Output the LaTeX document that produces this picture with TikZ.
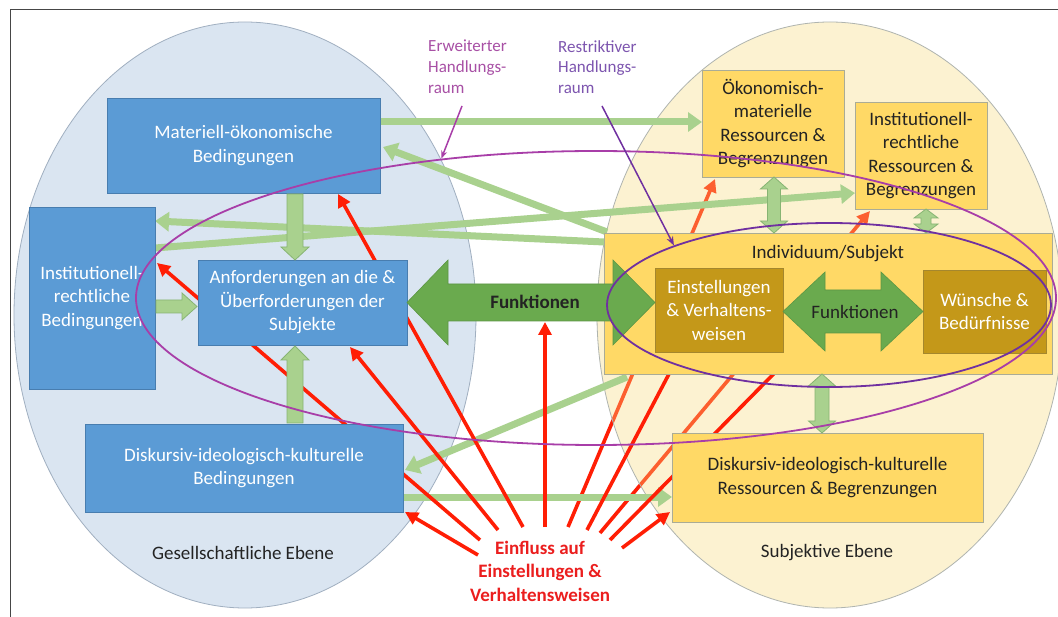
\documentclass[tikz,border=0pt]{standalone}
\usepackage{fontspec}
\setmainfont{Carlito}
\usetikzlibrary{arrows.meta,shapes.geometric}

\definecolor{framegray}{RGB}{70,70,70}
\definecolor{socialbg}{RGB}{218,229,241}
\definecolor{socialedge}{RGB}{160,175,192}
\definecolor{subjbg}{RGB}{249,218,126}
\definecolor{subjedge}{RGB}{175,180,175}
\definecolor{boxblue}{RGB}{91,155,213}
\definecolor{boxblueedge}{RGB}{72,125,175}
\definecolor{boxyellow}{RGB}{255,217,102}
\definecolor{boxyellowedge}{RGB}{170,172,150}
\definecolor{boxgold}{RGB}{196,152,25}
\definecolor{boxgoldedge}{RGB}{165,135,45}
\definecolor{arrowgreen}{RGB}{106,170,78}
\definecolor{arrowgreenedge}{RGB}{92,150,68}
\definecolor{palegreen}{RGB}{169,209,142}
\definecolor{palegreenedge}{RGB}{135,180,115}
\definecolor{influence}{RGB}{255,30,5}
\definecolor{influencetext}{RGB}{235,30,30}
\definecolor{widerange}{RGB}{168,62,168}
\definecolor{widelabel}{RGB}{168,80,165}
\definecolor{narrowrange}{RGB}{112,48,160}
\definecolor{narrowlabel}{RGB}{125,85,175}
\definecolor{darktext}{RGB}{35,35,35}

\tikzset{
  boxfont/.style={font=\fontsize{19}{23.5}\selectfont},
  bluebox/.style={boxfont, draw=boxblueedge, fill=boxblue, text=white, align=center, inner sep=0pt, line width=0.8pt},
  yellowbox/.style={boxfont, draw=boxyellowedge, fill=boxyellow, text=darktext, align=center, inner sep=0pt, line width=0.8pt},
  goldbox/.style={boxfont, draw=boxgoldedge, fill=boxgold, text=white, align=center, inner sep=0pt, line width=0.8pt},
  flow/.style={draw=palegreen, line width=7pt, -{Triangle[width=19pt,length=14pt]}},
  influencearrow/.style={draw=influence, line width=3.6pt, -{Triangle[width=13pt,length=13pt]}},
  blockarrow/.style={fill=palegreen, draw=palegreenedge, line width=0.8pt},
  bigarrow/.style={fill=arrowgreen, draw=arrowgreenedge, line width=0.6pt},
  plain/.style={boxfont, text=darktext, inner sep=0pt},
}

\begin{document}
\begin{tikzpicture}[x=1pt,y=-1pt]
\useasboundingbox (0,0) rectangle (1058,617);
\fill[white] (0,0) rectangle (1058,617);

% frame
\draw[framegray, line width=1pt] (10.5,617) -- (10.5,9.5) -- (1058,9.5);

% influence lines that run behind the subjective level
\coordinate (e6) at (568,527);
\coordinate (e8) at (600,533);
\coordinate (oek-s) at (715,179);
\coordinate (instr-s) at (870,211);
\draw[influencearrow] (e6) -- (oek-s);
\draw[influencearrow] (e8) -- (instr-s);

% the two levels
\node[ellipse, draw=socialedge, fill=socialbg, line width=0.8pt, inner sep=0pt,
      minimum width=462pt, minimum height=586pt] (social) at (245,315) {};
\node[ellipse, draw=subjedge, fill=subjbg, fill opacity=0.35, line width=0.8pt, inner sep=0pt,
      minimum width=466pt, minimum height=586pt] (subjective) at (830,315) {};

% connection points
\coordinate (mat-e1) at (380,122);
\coordinate (oek-w) at (702,122);
\coordinate (indiv-nw) at (607,232);
\coordinate (mat-e2) at (383,147);
\coordinate (instb-e1) at (155,248);
\coordinate (instr-w) at (855,193);
\coordinate (indiv-w) at (604,242);
\coordinate (instb-e2) at (155,221);
\coordinate (indiv-sw) at (627,377);
\coordinate (disk-e1) at (405,470);
\coordinate (disk-e2) at (403,497);
\coordinate (diskr-w) at (672,497);

% pale green flows
\draw[flow] (mat-e1) -- (oek-w);
\draw[flow] (indiv-nw) -- (mat-e2);
\draw[flow] (instb-e1) -- (instr-w);
\draw[flow] (indiv-w) -- (instb-e2);
\draw[flow] (indiv-sw) -- (disk-e1);
\draw[flow] (disk-e2) -- (diskr-w);

% influence lines
\coordinate (e1) at (478,555);
\coordinate (e2) at (480,540);
\coordinate (e3) at (498,530);
\coordinate (e4) at (523,527);
\coordinate (e5) at (545,527);
\coordinate (e7) at (587,530);
\coordinate (e9) at (610,540);
\coordinate (e10) at (622,548);
\coordinate (disk-se) at (405,512);
\coordinate (instb-e3) at (157,263);
\coordinate (anf-s) at (350,347);
\coordinate (mat-s) at (338,194);
\coordinate (funk-s) at (545,322);
\coordinate (einst-s) at (680,353);
\coordinate (funkR-s) at (807,340);
\coordinate (diskr-sw) at (670,512);
\draw[influencearrow] (e1) -- (disk-se);
\draw[influencearrow] (e2) -- (instb-e3);
\draw[influencearrow] (e3) -- (anf-s);
\draw[influencearrow] (e4) -- (mat-s);
\draw[influencearrow] (e5) -- (funk-s);
\draw[influencearrow] (e7) -- (einst-s);
\draw[influencearrow] (e9) -- (funkR-s);
\draw[influencearrow] (e10) -- (diskr-sw);

% societal conditions
\node[bluebox, minimum width=273pt, minimum height=95pt] (mat) at (243.5,145.5) {Materiell-ökonomische\\Bedingungen};
\node[bluebox, minimum width=126pt, minimum height=182pt] (instb) at (92,298) {Institutionell-\\rechtliche\\Bedingungen};
\node[bluebox, minimum width=209pt, minimum height=85pt] (anf) at (302.5,302.5) {Anforderungen an die \&\\Überforderungen der\\Subjekte};
\node[bluebox, minimum width=318pt, minimum height=88pt] (disk) at (244,468) {Diskursiv-ideologisch-kulturelle\\Bedingungen};

% subjective resources
\node[yellowbox, minimum width=142pt, minimum height=107pt] (oek) at (773,123.5) {Ökonomisch-\\materielle\\Ressourcen \&\\Begrenzungen};
\node[yellowbox, minimum width=132pt, minimum height=107pt] (instr) at (921,155.5) {Institutionell-\\rechtliche\\Ressourcen \&\\Begrenzungen};
\node[yellowbox, minimum width=448pt, minimum height=141pt] (indiv) at (828,303.5) {};
\node[plain] (indivlbl) at (828,254) {Individuum/Subjekt};
\node[goldbox, minimum width=128pt, minimum height=84pt] (einst) at (719,310) {Einstellungen\\\& Verhaltens-\\weisen};
\node[goldbox, minimum width=123pt, minimum height=83pt] (wuen) at (984.5,311.5) {Wünsche \&\\Bedürfnisse};
\node[yellowbox, minimum width=311pt, minimum height=89pt] (diskr) at (827.5,477.5) {Diskursiv-ideologisch-kulturelle\\Ressourcen \& Begrenzungen};

% block arrows between the societal conditions
\draw[blockarrow] (287,194) -- (303,194) -- (303,247) -- (309,247) -- (295,260) -- (281,247) -- (287,247) -- cycle;
\draw[blockarrow] (287,423) -- (303,423) -- (303,360) -- (309,360) -- (295,346) -- (281,360) -- (287,360) -- cycle;
\draw[blockarrow] (156,300) -- (182,300) -- (182,293) -- (197,306.5) -- (182,320) -- (182,313) -- (156,313) -- cycle;

% double block arrows at the individual
\draw[blockarrow] (774,177) -- (787.5,189) -- (780.5,189) -- (780.5,221) -- (787.5,221) -- (774,233) -- (760.5,221) -- (767.5,221) -- (767.5,189) -- (760.5,189) -- cycle;
\draw[blockarrow] (926,209) -- (938,218) -- (931,218) -- (931,224) -- (938,224) -- (926,233) -- (914,224) -- (921,224) -- (921,218) -- (914,218) -- cycle;
\draw[blockarrow] (822,374) -- (835.5,386) -- (829,386) -- (829,421) -- (835.5,421) -- (822,433) -- (808.5,421) -- (815,421) -- (815,386) -- (808.5,386) -- cycle;

% functions
\draw[bigarrow] (407,302.5) -- (448,260) -- (448,284) -- (613,284) -- (613,260) -- (655,302.5) -- (613,345) -- (613,321) -- (448,321) -- (448,345) -- cycle;
\node[boxfont, font=\bfseries\fontsize{19}{23.5}\selectfont, text=darktext, inner sep=0pt] (funkL) at (535,302) {Funktionen};
\draw[bigarrow] (783,311.5) -- (825,272) -- (825,290) -- (881,290) -- (881,272) -- (923,311.5) -- (881,351) -- (881,333) -- (825,333) -- (825,351) -- cycle;
\node[plain] (funkR) at (855,312) {Funktionen};

% scopes of action
\node[ellipse, draw=widerange, line width=1.8pt, inner sep=0pt,
      minimum width=920pt, minimum height=294pt] (wide) at (596,298) {};
\node[ellipse, draw=narrowrange, line width=1.8pt, inner sep=0pt,
      minimum width=444pt, minimum height=164pt] (narrow) at (829,305) {};

\node[font=\fontsize{17}{21}\selectfont, text=widelabel, align=left, anchor=north west, inner sep=0pt] (widelbl) at (428,40) {Erweiterter\\Handlungs-\\raum};
\node[font=\fontsize{17}{21}\selectfont, text=narrowlabel, align=left, anchor=north west, inner sep=0pt] (narrowlbl) at (558,40) {Restriktiver\\Handlungs-\\raum};
\coordinate (widetail) at (462,106);
\coordinate (narrowtail) at (602,106);
\draw[widerange, line width=1.5pt, -{Stealth[length=8pt,width=6pt]}] (widetail) -- (wide.138.5);
\draw[narrowrange, line width=1.5pt, -{Stealth[length=9pt,width=7pt]}] (narrowtail) -- (narrow.159.6);

% level captions and influence label
\node[plain] (sociallbl) at (243,553) {Gesellschaftliche Ebene};
\node[plain] (subjlbl) at (827,553) {Subjektive Ebene};
\node[font=\bfseries\fontsize{19}{23.5}\selectfont, text=influencetext, align=center, inner sep=0pt] (influencelbl) at (540,571) {Einfluss auf\\Einstellungen \&\\Verhaltensweisen};
\end{tikzpicture}
\end{document}
